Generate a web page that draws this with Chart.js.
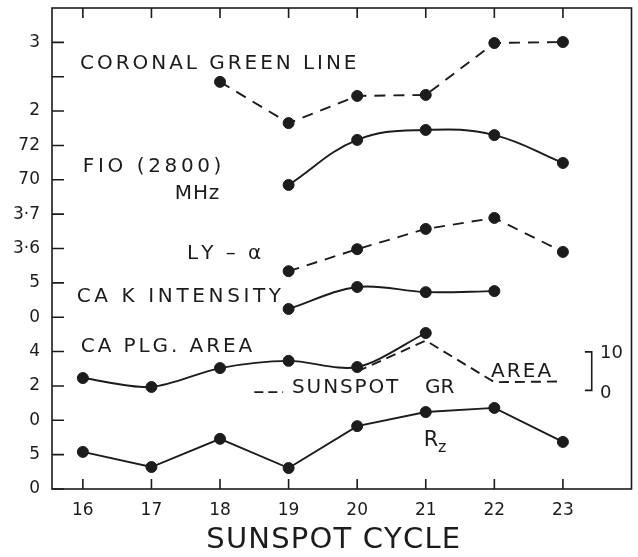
<!DOCTYPE html>
<html><head><meta charset="utf-8">
<script src="https://cdn.jsdelivr.net/npm/chart.js@4.4.0/dist/chart.umd.min.js"></script>
<style>html,body{margin:0;padding:0;background:#fff}#wrap{width:638px;height:557px}</style>
</head><body><div id="wrap"><canvas id="c" width="638" height="557"></canvas></div>
<script>
// ---- data (values in stacked-panel units, one unit per tick) ----
const cycles = [16, 17, 18, 19, 20, 21, 22, 23];
const coronalGreen = [null, null, 11.85, 10.65, 11.44, 11.47, 12.98, 13.01];
const f10 = [null, null, null, 8.85, 10.16, 10.45, 10.30, 9.49];
const lyAlpha = [null, null, null, 6.34, 6.98, 7.57, 7.89, 6.90];
const caK = [null, null, null, 5.24, 5.88, 5.73, 5.76, null];
const caPlg = [3.23, 2.97, 3.52, 3.73, 3.55, 4.54, null, null];
const sunspotArea = [null, null, null, null, 3.42, 4.32, 3.11, 3.13];
const rz = [1.08, 0.64, 1.46, 0.61, 1.83, 2.24, 2.36, 1.37];
const yTickValues = [0,1,2,3,4,5,6,7,8,9,10,11,12,13];
const yTickLabels = ['0','5','0','2','4','0','5','3·6','3·7','70','72','2','','3'];
const xTitle = 'SUNSPOT CYCLE';

const INK = '#1c1c1c';
const FONT = "'DejaVu Sans', sans-serif";
const pts = arr => cycles.map((c, i) => ({x: c, y: arr[i]}));

function lineDs(arr, opts) {
  return Object.assign({
    data: pts(arr), borderColor: INK, backgroundColor: INK, borderWidth: 1.9,
    pointRadius: 5.5, pointBackgroundColor: INK, pointBorderColor: INK, pointBorderWidth: 1,
    tension: 0, spanGaps: false, fill: false
  }, opts);
}

// text annotations: x1/x2 in cycle units, y in panel units
const labels = [
  {t: 'CORONAL GREEN LINE', x1: 15.96, x2: 19.99, y: 12.37, s: 20},
  {t: 'FIO (2800)', x1: 16.0, x2: 18.02, y: 9.37, s: 20},
  {t: 'MHz', x1: 17.34, x2: 17.99, y: 8.59, s: 20},
  {t: 'LY – α', x1: 17.52, x2: 18.6, y: 6.84, s: 20},
  {t: 'CA K INTENSITY', x1: 15.91, x2: 18.89, y: 5.59, s: 20},
  {t: 'CA PLG. AREA', x1: 15.97, x2: 18.47, y: 4.13, s: 20},
  {t: 'SUNSPOT', x1: 19.05, x2: 20.60, y: 2.94, s: 20},
  {t: 'GR', x1: 20.99, x2: 21.29, y: 2.94, s: 20},
  {t: 'AREA', x1: 21.95, x2: 22.83, y: 3.41, s: 20},
  {t: '10', x1: 23.54, x2: 23.84, y: 3.96, s: 18},
  {t: '0', x1: 23.54, x2: 23.73, y: 2.79, s: 18},
  {t: 'R', x1: 20.97, x2: 21.14, y: 1.40, s: 21},
  {t: 'z', x1: 21.18, x2: 21.33, y: 1.19, s: 16}
];

function drawSpaced(ctx, text, left, right, cy) {
  const chars = [...text];
  const widths = chars.map(c => ctx.measureText(c).width);
  const total = widths.reduce((a, b) => a + b, 0);
  const gap = chars.length > 1 ? Math.max(0, (right - left - total) / (chars.length - 1)) : 0;
  let x = left;
  chars.forEach((c, i) => { ctx.fillText(c, x, cy); x += widths[i] + gap; });
}

const decor = {
  id: 'decor',
  afterDraw(chart) {
    const {ctx, chartArea: a, scales: {x, y}} = chart;
    ctx.save();
    ctx.strokeStyle = INK; ctx.fillStyle = INK; ctx.lineWidth = 1.6;
    ctx.strokeRect(a.left, a.top, a.right - a.left, a.bottom - a.top);
    ctx.beginPath();
    yTickValues.forEach(v => { const py = y.getPixelForValue(v); ctx.moveTo(a.left, py); ctx.lineTo(a.left + 12, py); });
    cycles.forEach(v => {
      const px = x.getPixelForValue(v);
      ctx.moveTo(px, a.bottom); ctx.lineTo(px, a.bottom - 10);
      ctx.moveTo(px, a.top); ctx.lineTo(px, a.top + 10);
    });
    // scale bracket for sunspot area
    const bx1 = x.getPixelForValue(23.32), bx2 = x.getPixelForValue(23.42);
    const by1 = y.getPixelForValue(3.99), by2 = y.getPixelForValue(2.87);
    ctx.moveTo(bx1, by1); ctx.lineTo(bx2, by1); ctx.lineTo(bx2, by2); ctx.lineTo(bx1, by2);
    ctx.stroke();
    // dashed key before "SUNSPOT GR"
    ctx.setLineDash([9, 5]);
    ctx.beginPath();
    ctx.moveTo(x.getPixelForValue(18.5), y.getPixelForValue(2.82));
    ctx.lineTo(x.getPixelForValue(18.92), y.getPixelForValue(2.82));
    ctx.stroke();
    ctx.setLineDash([]);
    ctx.textBaseline = 'middle'; ctx.textAlign = 'left';
    labels.forEach(l => {
      ctx.font = `${l.s}px ${FONT}`;
      drawSpaced(ctx, l.t, x.getPixelForValue(l.x1), x.getPixelForValue(l.x2), y.getPixelForValue(l.y));
    });
    // x-axis title (letter-spaced)
    ctx.font = `29px ${FONT}`;
    drawSpaced(ctx, xTitle, x.getPixelForValue(17.8), x.getPixelForValue(21.5), a.bottom + 51);
    ctx.restore();
  }
};

const noPad = s => { s.paddingTop = 0; s.paddingBottom = 0; s.paddingLeft = 0; s.paddingRight = 0; };

new Chart(document.getElementById('c'), {
  type: 'line',
  data: {
    datasets: [
      lineDs(coronalGreen, {borderDash: [11, 8]}),
      lineDs(f10, {tension: 0.4}),
      lineDs(lyAlpha, {borderDash: [11, 8]}),
      lineDs(caK, {tension: 0.35}),
      lineDs(caPlg, {tension: 0.3}),
      lineDs(sunspotArea, {borderDash: [10, 6], pointRadius: 0}),
      lineDs(rz, {})
    ]
  },
  options: {
    responsive: false, animation: false, devicePixelRatio: 1,
    layout: {padding: {top: 8, right: 5, left: 0, bottom: 0}},
    plugins: {legend: {display: false}, tooltip: {enabled: false}},
    scales: {
      x: {
        type: 'linear', min: 15.55, max: 24,
        grid: {display: false, drawTicks: false}, border: {display: false},
        afterBuildTicks: s => { s.ticks = cycles.map(v => ({value: v})); },
        afterFit: s => { s.height = 68; noPad(s); },
        ticks: {color: INK, font: {family: FONT, size: 17}, padding: 11, autoSkip: false, maxRotation: 0,
                callback: v => String(v)},
        title: {display: false, text: xTitle}
      },
      y: {
        type: 'linear', min: 0, max: 14,
        grid: {display: false, drawTicks: false}, border: {display: false},
        afterBuildTicks: s => { s.ticks = yTickValues.map(v => ({value: v})); },
        afterFit: s => { s.width = 52; noPad(s); },
        ticks: {color: INK, font: {family: FONT, size: 17}, padding: 12, autoSkip: false,
                callback: v => yTickLabels[yTickValues.indexOf(v)]}
      }
    }
  },
  plugins: [decor]
});
</script></body></html>
